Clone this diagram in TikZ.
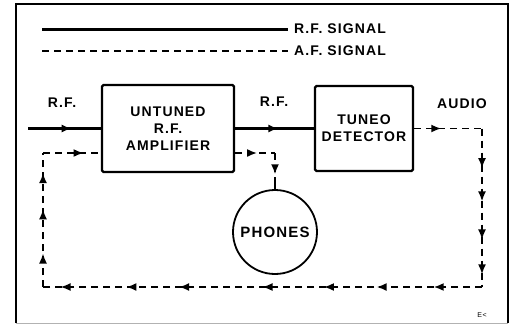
\documentclass[tikz,border=0pt]{standalone}
\usepackage{fontspec}
\setmainfont{Liberation Sans}[LetterSpace=8]
\usetikzlibrary{arrows.meta,decorations.markings}
\tikzset{
  rfline/.style={line width=2.1pt},
  afline/.style={line width=1.7pt, dash pattern=on 7pt off 5pt},
  blockbox/.style={draw, line width=2.2pt, rounded corners=1.5pt, align=center, font=\fontsize{14}{17}\selectfont\bfseries},
  lbl/.style={font=\fontsize{14}{15}\selectfont\bfseries, inner sep=0pt},
  arrowsat/.style={postaction={decorate, decoration={markings, mark=at position #1 with {\arrow{Latex[length=10pt,width=8pt]}}}}}
}
\begin{document}
\begin{tikzpicture}[x=1pt,y=-1pt]
\useasboundingbox (0,0) rectangle (516,325);
% frame
\draw[line width=2.2pt] (16,323) -- (16,4) -- (508,4) -- (508,323);
\draw[line width=1pt, gray!60] (16,323) -- (508,323);
% legend
\coordinate (lega) at (42,29);
\coordinate (legb) at (288,29);
\coordinate (legc) at (42,51);
\coordinate (legd) at (288,51);
\draw[line width=3pt] (lega) -- (legb);
\draw[afline] (legc) -- (legd);
\node[lbl, anchor=west] (rftext) at (294,29) {R.F. SIGNAL};
\node[lbl, anchor=west] (aftext) at (294,51) {A.F. SIGNAL};
% blocks
\node[blockbox, minimum width=132pt, minimum height=87pt] (amp) at (168,128.5) {UNTUNED\\R.F.\\AMPLIFIER};
\node[blockbox, minimum width=98pt, minimum height=85pt] (det) at (364,128.5) {TUNEO\\DETECTOR};
\node[draw, circle, line width=1.8pt, minimum size=84pt, inner sep=0pt, font=\fontsize{15}{16}\selectfont\bfseries] (phones) at (275,232) {PHONES};
% labels
\node[lbl] (rf1) at (62,103) {R.F.};
\node[lbl] (rf2) at (274,102) {R.F.};
\node[lbl] (audio) at (462,104) {AUDIO};
\node[lbl, font=\fontsize{7}{8}\selectfont] (sig) at (482,315) {E<};
% RF path
\coordinate (rfin) at (28,128.5);
\draw[rfline, arrowsat=0.6] (rfin) -- (amp.west);
\draw[rfline, arrowsat=0.55] (amp.east) -- (det.west);
% audio loop
\coordinate (a1) at (482,128.5);
\coordinate (a2) at (482,287);
\coordinate (a3) at (43,287);
\coordinate (a4) at (43,153);
\draw[afline, arrowsat=0.4] (det.east) -- (a1);
\draw[afline, arrowsat=0.25, arrowsat=0.46, arrowsat=0.7, arrowsat=0.92] (a1) -- (a2);
\draw[afline, arrowsat=0.11, arrowsat=0.24, arrowsat=0.36, arrowsat=0.5, arrowsat=0.69, arrowsat=0.81, arrowsat=0.96] (a2) -- (a3);
\draw[afline, arrowsat=0.25, arrowsat=0.58, arrowsat=0.85] (a3) -- (a4);
\draw[afline, arrowsat=0.7] (a4) -- (amp.west |- a4);
% phones feed
\coordinate (p1) at (275,153);
\coordinate (p2) at (275,178);
\draw[afline, arrowsat=0.55] (amp.east |- p1) -- (p1);
\draw[afline, arrowsat=0.85] (p1) -- (p2);
\draw[line width=1.8pt] (p2) -- (phones.north);
\end{tikzpicture}
\end{document}
